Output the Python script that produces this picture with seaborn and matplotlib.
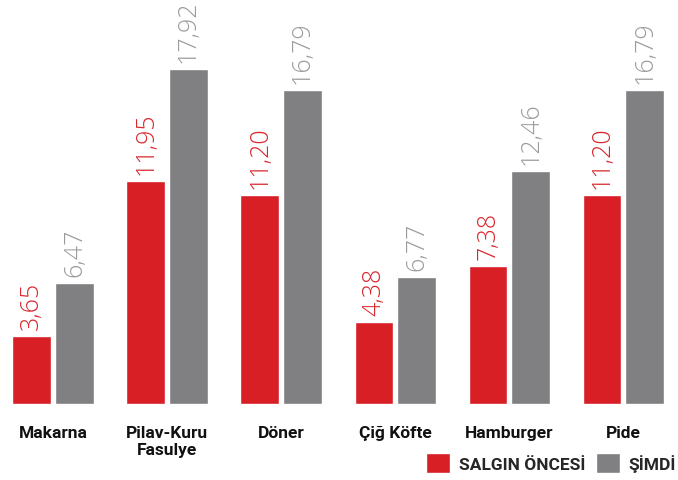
import numpy as np
import pandas as pd
import matplotlib
matplotlib.use("Agg")
import matplotlib.pyplot as plt
import seaborn as sns

# ─── Data ────────────────────────────────────────────────
categories = ["Makarna", "Pilav-Kuru\nFasulye", "Döner", "Çiğ Köfte", "Hamburger", "Pide"]
before_vals = [3.65, 11.95, 11.20, 4.38, 7.38, 11.20]
now_vals = [6.47, 17.92, 16.79, 6.77, 12.46, 16.79]
series = ["SALGIN ÖNCESİ", "ŞİMDİ"]

# ─── Style ───────────────────────────────────────────────
RED = "#D81F26"
GRAY = "#808083"
RED_TXT = "#D9262C"
GRAY_TXT = "#9B9B9D"
sns.set_theme(style="white")
plt.rcParams["font.family"] = ["Roboto", "DejaVu Sans"]

df = pd.DataFrame({
    "cat": categories * 2,
    "val": before_vals + now_vals,
    "period": [series[0]] * len(categories) + [series[1]] * len(categories),
})

W, H = 678, 481
fig = plt.figure(figsize=(W / 100, H / 100), dpi=100)
fig.patch.set_facecolor("white")
ax = fig.add_axes([0, 76 / H, 1, 405 / H])

sns.barplot(data=df, x="cat", y="val", hue="period", order=categories,
            hue_order=series, palette=[RED, GRAY], width=0.75, gap=0.1,
            saturation=1, ax=ax, errorbar=None)

for cont, vals, col in zip(ax.containers, [before_vals, now_vals], [RED_TXT, GRAY_TXT]):
    labels = [f"{v:.2f}".replace(".", ",") for v in vals]
    ax.bar_label(cont, labels=labels, rotation=90, padding=5, color=col,
                 fontsize=18, fontweight="light", family=["Open Sans", "Roboto"])

ax.set_xlim(-0.465, 5.48)
ax.set_ylim(0, 21.66)
ax.set_xlabel("")
ax.set_ylabel("")
ax.set_yticks([])
ax.tick_params(axis="x", length=0, pad=15)
for lbl in ax.get_xticklabels():
    lbl.set_fontweight("bold")
    lbl.set_fontsize(12.5)
    lbl.set_color("#111111")
for s in ax.spines.values():
    s.set_visible(False)

handles, labels = ax.get_legend_handles_labels()
ax.legend(handles, labels, loc="lower right", bbox_to_anchor=(0.997, 0.015),
          bbox_transform=fig.transFigure, ncol=2, frameon=False,
          handlelength=1.4, handleheight=1.4, handletextpad=0.5,
          columnspacing=0.6, borderaxespad=0, borderpad=0,
          prop={"weight": "bold", "size": 12.5})

fig.savefig("out.png", dpi=100, facecolor="white")
